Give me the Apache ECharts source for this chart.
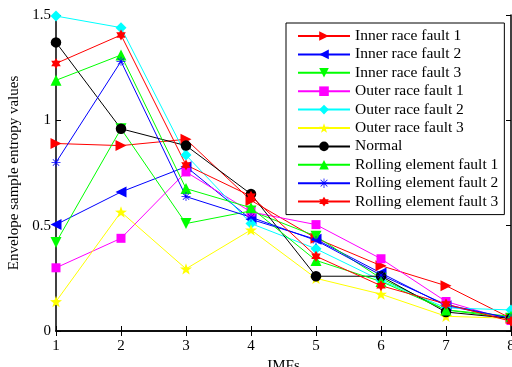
<!DOCTYPE html>
<html>
<head>
<meta charset="utf-8">
<script src="https://cdn.jsdelivr.net/npm/echarts@6/dist/echarts.min.js"></script>
<style>html,body{margin:0;padding:0;background:#fff}#c{width:512px;height:367px}</style>
</head>
<body>
<div id="c"></div>
<script>
var imfs = [1, 2, 3, 4, 5, 6, 7, 8];
var yTicks = [0, 0.5, 1, 1.5];
var innerRace1 = [0.89, 0.88, 0.91, 0.62, 0.44, 0.31, 0.215, 0.06];
var innerRace2 = [0.505, 0.66, 0.78, 0.53, 0.435, 0.275, 0.12, 0.06];
var innerRace3 = [0.42, 0.96, 0.51, 0.57, 0.45, 0.25, 0.10, 0.06];
var outerRace1 = [0.30, 0.44, 0.755, 0.565, 0.505, 0.343, 0.14, 0.05];
var outerRace2 = [1.495, 1.44, 0.835, 0.51, 0.39, 0.24, 0.11, 0.10];
var outerRace3 = [0.14, 0.565, 0.295, 0.48, 0.25, 0.175, 0.07, 0.06];
var normal = [1.37, 0.96, 0.88, 0.65, 0.26, 0.26, 0.09, 0.06];
var rolling1 = [1.19, 1.31, 0.676, 0.585, 0.335, 0.235, 0.10, 0.07];
var rolling2 = [0.80, 1.28, 0.638, 0.54, 0.43, 0.265, 0.125, 0.06];
var rolling3 = [1.27, 1.405, 0.788, 0.64, 0.355, 0.215, 0.128, 0.046];

var STAR5 = 'path://M0,-10 L2.35,-3.24 L9.51,-3.09 L3.8,1.24 L5.88,8.09 L0,4 L-5.88,8.09 L-3.8,1.24 L-9.51,-3.09 L-2.35,-3.24 Z';
var HEX = 'path://M0,-10 L8.66,5 L-8.66,5 Z M0,10 L-8.66,-5 L8.66,-5 Z';
var AST = 'path://M-0.8,-10 L0.8,-10 L0.8,10 L-0.8,10 Z M-10,-0.8 L10,-0.8 L10,0.8 L-10,0.8 Z M-6.5,-7.6 L7.6,6.5 L6.5,7.6 L-7.6,-6.5 Z M6.5,-7.6 L7.6,-6.5 L-6.5,7.6 L-7.6,6.5 Z';

var defs = [
  ['Inner race fault 1', innerRace1, '#ff0000', 'triangle', 11, -90],
  ['Inner race fault 2', innerRace2, '#0000ff', 'triangle', 11, 90],
  ['Inner race fault 3', innerRace3, '#00ff00', 'triangle', 11, 180],
  ['Outer race fault 1', outerRace1, '#ff00ff', 'rect', 9, 0],
  ['Outer race fault 2', outerRace2, '#00ffff', 'diamond', 11, 0],
  ['Outer race fault 3', outerRace3, '#ffff00', STAR5, 12, 0],
  ['Normal', normal, '#000000', 'circle', 10.5, 0],
  ['Rolling element fault 1', rolling1, '#00ff00', 'triangle', 11, 0],
  ['Rolling element fault 2', rolling2, '#0000ff', AST, 9, 0],
  ['Rolling element fault 3', rolling3, '#ff0000', HEX, 11, 0]
];

var font = 'Liberation Serif';
var series = defs.map(function (d) {
  return {
    name: d[0], type: 'line',
    data: imfs.map(function (x, i) { return [x, d[1][i]]; }),
    symbol: d[3], symbolSize: d[4], symbolRotate: d[5], symbolKeepAspect: true,
    showAllSymbol: true,
    lineStyle: { color: d[2], width: 1 },
    itemStyle: { color: d[2], borderWidth: 0 },
    emphasis: { disabled: true },
    animation: false
  };
});

var chart = echarts.init(document.getElementById('c'), null, { renderer: 'canvas' });
chart.setOption({
  animation: false,
  backgroundColor: '#fff',
  grid: { left: 56, right: 1, top: 15, bottom: 36, containLabel: false, outerBoundsMode: 'none' },
  xAxis: [
    { type: 'value', min: 1, max: 8, interval: 1, position: 'bottom',
      name: 'IMFs', nameLocation: 'middle', nameGap: 26,
      nameTextStyle: { fontFamily: font, fontSize: 15, color: '#000' },
      axisLine: { show: true, lineStyle: { color: '#000', width: 1.5 } },
      axisTick: { show: true, inside: true, length: 5, lineStyle: { color: '#000' } },
      axisLabel: { fontFamily: font, fontSize: 15, color: '#000', margin: 8 },
      splitLine: { show: false } },
    { type: 'value', min: 1, max: 8, interval: 1, position: 'top',
      axisLine: { show: true, lineStyle: { color: '#000', width: 1.5 } },
      axisTick: { show: true, inside: true, length: 5, lineStyle: { color: '#000' } },
      axisLabel: { show: false }, splitLine: { show: false } }
  ],
  yAxis: [
    { type: 'value', min: 0, max: 1.5, interval: 0.5, position: 'left',
      name: 'Envelope sample entropy values', nameLocation: 'middle', nameGap: 31,
      nameTextStyle: { fontFamily: font, fontSize: 15, color: '#000' },
      axisLine: { show: true, lineStyle: { color: '#000', width: 1.5 } },
      axisTick: { show: true, inside: true, length: 5, lineStyle: { color: '#000' } },
      axisLabel: { fontFamily: font, fontSize: 15, color: '#000', margin: 5,
        formatter: function (v) { return String(yTicks[Math.round(v / 0.5)]); } },
      splitLine: { show: false } },
    { type: 'value', min: 0, max: 1.5, interval: 0.5, position: 'right',
      axisLine: { show: true, lineStyle: { color: '#000', width: 1.5 } },
      axisTick: { show: true, inside: true, length: 5, lineStyle: { color: '#000' } },
      axisLabel: { show: false }, splitLine: { show: false } }
  ],
  legend: {
    orient: 'vertical', left: 286, top: 23,
    backgroundColor: '#fff', borderColor: '#000', borderWidth: 1,
    padding: [5, 6, 5, 11],
    itemWidth: 52, itemHeight: 12, itemGap: 2.4,
    textStyle: { fontFamily: font, fontSize: 15.5, color: '#000', lineHeight: 15 },
    data: defs.map(function (d) { return d[0]; })
  },
  series: series
});
</script>
</body>
</html>
